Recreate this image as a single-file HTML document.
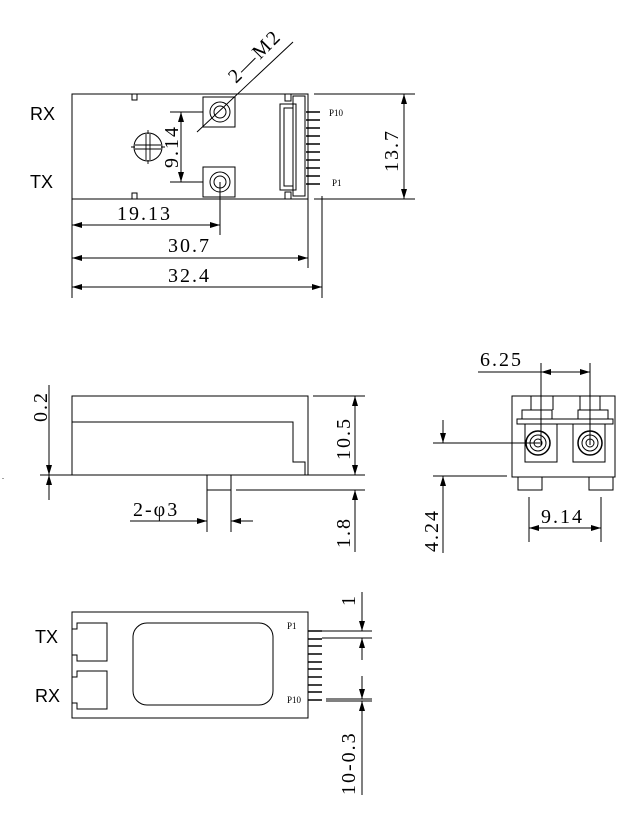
<!DOCTYPE html>
<html><head><style>body{margin:0;background:#fff}svg{display:block}.d{font-size:20px;letter-spacing:2px}</style></head><body>
<svg width="634" height="832" viewBox="0 0 634 832" xmlns="http://www.w3.org/2000/svg" font-family="'Liberation Serif',serif">
<defs>
<marker id="a" viewBox="0 0 10 6" refX="10" refY="3" markerWidth="10" markerHeight="6" orient="auto-start-reverse" markerUnits="userSpaceOnUse"><path d="M0,0L10,3L0,6z" fill="#000"/></marker>
</defs>
<g stroke="#000" stroke-width="1" fill="none">
<!-- TOP VIEW -->
<rect x="72" y="94" width="236" height="105"/>
<rect x="132" y="94" width="5" height="6"/><rect x="132" y="193" width="5" height="6"/>
<rect x="203" y="97" width="32" height="30"/><circle cx="220" cy="112" r="10"/><circle cx="220" cy="112" r="6"/>
<rect x="203" y="167" width="32" height="30"/><circle cx="220" cy="182" r="10"/><circle cx="220" cy="182" r="6"/>
<circle cx="148" cy="147" r="14"/>
<path d="M146,134v26M150,134v26M135,145h26M135,149h26M131,147h4M161,147h4M148,130v4M148,160v4" stroke-width="0.9"/>
<line x1="197" y1="132" x2="293" y2="42"/>
<line x1="170" y1="112" x2="203" y2="112"/><line x1="170" y1="182" x2="203" y2="182"/>
<line x1="181" y1="112" x2="181" y2="182" marker-start="url(#a)" marker-end="url(#a)"/>
<rect x="285" y="94" width="6" height="7"/><rect x="285" y="192" width="6" height="7"/>
<path d="M293,96h12v100h-12z"/><path d="M280,104h16v86h-16z"/><path d="M284,108h9v78h-9z"/>
<g stroke-width="1.5"><path d="M306,112h14M306,120h14M306,128h14M306,136h14M306,144h14M306,152h14M306,160h14M306,168h14M306,176h14M306,184h14"/></g>
<line x1="314" y1="94" x2="415" y2="94"/><line x1="314" y1="199" x2="415" y2="199"/>
<line x1="404" y1="94" x2="404" y2="199" marker-start="url(#a)" marker-end="url(#a)"/>
<line x1="72" y1="199" x2="72" y2="298"/><line x1="220" y1="182" x2="220" y2="235"/>
<line x1="308" y1="199" x2="308" y2="268"/><line x1="322" y1="196" x2="322" y2="298"/>
<line x1="72" y1="225" x2="220" y2="225" marker-start="url(#a)" marker-end="url(#a)"/>
<line x1="72" y1="258" x2="308" y2="258" marker-start="url(#a)" marker-end="url(#a)"/>
<line x1="72" y1="287" x2="322" y2="287" marker-start="url(#a)" marker-end="url(#a)"/>
<!-- SIDE VIEW -->
<path d="M72,475V396H308V475"/>
<path d="M72,422H293V462H305V475"/>
<line x1="40" y1="475" x2="365" y2="475"/>
<rect x="207" y="475" width="24" height="15"/>
<line x1="236" y1="490" x2="365" y2="490"/>
<line x1="313" y1="396" x2="365" y2="396"/>
<line x1="49" y1="385" x2="49" y2="475" marker-end="url(#a)"/><line x1="49" y1="500" x2="49" y2="475" marker-end="url(#a)"/>
<line x1="355" y1="396" x2="355" y2="475" marker-start="url(#a)" marker-end="url(#a)"/>
<line x1="355" y1="552" x2="355" y2="490" marker-end="url(#a)"/>
<line x1="130" y1="521" x2="207" y2="521" marker-end="url(#a)"/><line x1="253" y1="521" x2="231" y2="521" marker-end="url(#a)"/>
<line x1="207" y1="490" x2="207" y2="532"/><line x1="231" y1="490" x2="231" y2="532"/>
<!-- FRONT VIEW -->
<rect x="512" y="396" width="103" height="81"/>
<rect x="517" y="419" width="96" height="5"/>
<path d="M525,424v38h32v-38"/><path d="M573,424v38h32v-38"/>
<path d="M522,419v-9h30v9M531,410v-14M553,410v-14"/><path d="M578,419v-9h30v9M580,410v-14M600,410v-14"/>
<circle cx="538" cy="443" r="12" stroke-width="1.5"/><circle cx="538" cy="443" r="8"/><circle cx="538" cy="443" r="4"/>
<circle cx="590" cy="443" r="12" stroke-width="1.5"/><circle cx="590" cy="443" r="8"/><circle cx="590" cy="443" r="4"/>
<rect x="518" y="477" width="24" height="13"/><rect x="589" y="477" width="24" height="13"/>
<line x1="541" y1="363" x2="541" y2="445"/><line x1="590" y1="363" x2="590" y2="445"/>
<line x1="478" y1="372" x2="541" y2="372"/><line x1="541" y1="372" x2="590" y2="372" marker-start="url(#a)" marker-end="url(#a)"/>
<line x1="433" y1="443" x2="540" y2="443"/><line x1="433" y1="476" x2="507" y2="476"/>
<line x1="443" y1="420" x2="443" y2="443" marker-end="url(#a)"/><line x1="443" y1="553" x2="443" y2="476" marker-end="url(#a)"/>
<line x1="529" y1="497" x2="529" y2="542"/><line x1="601" y1="497" x2="601" y2="542"/>
<line x1="529" y1="528" x2="601" y2="528" marker-start="url(#a)" marker-end="url(#a)"/>
<!-- BOTTOM VIEW -->
<rect x="72" y="612" width="236" height="106"/>
<rect x="133" y="623" width="140" height="82" rx="14"/>
<path d="M72,629h5v-6h30v38h-30v-6h-5"/><path d="M72,677h5v-6h30v38h-30v-6h-5"/>
<g stroke-width="1.5"><path d="M308,631h14M308,639h14M308,646h14M308,654h14M308,662h14M308,669h14M308,677h14M308,685h14M308,692h14M308,700h14"/></g>
<line x1="322" y1="631" x2="372" y2="631"/><line x1="322" y1="638" x2="372" y2="638"/>
<line x1="326" y1="699" x2="372" y2="699"/><line x1="326" y1="701" x2="372" y2="701"/>
<line x1="362" y1="592" x2="362" y2="631" marker-end="url(#a)"/><line x1="362" y1="660" x2="362" y2="638" marker-end="url(#a)"/>
<line x1="362" y1="676" x2="362" y2="699" marker-end="url(#a)"/><line x1="362" y1="795" x2="362" y2="701" marker-end="url(#a)"/>
</g>
<g fill="#000">
<text x="30" y="120" font-family="'Liberation Sans',sans-serif" font-size="18">RX</text>
<text x="30" y="188" font-family="'Liberation Sans',sans-serif" font-size="18">TX</text>
<text x="329" y="116" font-size="9">P10</text><text x="332" y="186" font-size="9">P1</text>
<text transform="translate(236,84) rotate(-45)" class="d">2—M2</text>
<text transform="translate(178,168) rotate(-90)" class="d">9.14</text>
<text transform="translate(398,172) rotate(-90)" class="d">13.7</text>
<text x="117" y="220" class="d">19.13</text>
<text x="168" y="252" class="d">30.7</text>
<text x="168" y="282" class="d">32.4</text>
<text transform="translate(47,422) rotate(-90)" class="d">0.2</text>
<text transform="translate(350,460) rotate(-90)" class="d">10.5</text>
<text transform="translate(350,548) rotate(-90)" class="d">1.8</text>
<text x="133" y="516" class="d">2-φ3</text>
<text x="480" y="366" class="d">6.25</text>
<text transform="translate(438,552) rotate(-90)" class="d">4.24</text>
<text x="541" y="523" class="d">9.14</text>
<text x="35" y="643" font-family="'Liberation Sans',sans-serif" font-size="18">TX</text>
<text x="35" y="702" font-family="'Liberation Sans',sans-serif" font-size="18">RX</text>
<text x="287" y="629" font-size="9">P1</text><text x="287" y="703" font-size="9">P10</text>
<text transform="translate(355,606) rotate(-90)" class="d">1</text>
<text transform="translate(355,795) rotate(-90)" class="d">10-0.3</text>
<text x="2" y="479" font-size="8">.</text>
</g>
</svg>
</body></html>
